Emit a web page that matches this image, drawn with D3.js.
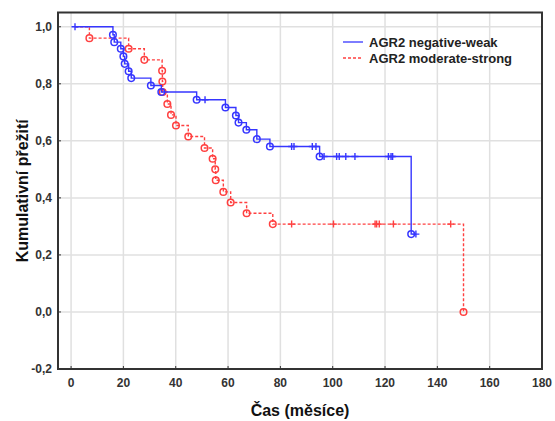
<!DOCTYPE html>
<html lang="cs">
<head>
  <meta charset="UTF-8">
  <title>Kumulativní přežití AGR2</title>
  <script src="https://d3js.org/d3.v7.min.js"></script>
  <style>
    body { margin: 0; background: #fff; }
    svg { font-family: "Liberation Sans", Arial, sans-serif; }
    .tick-label { font-size: 12px; font-weight: bold; fill: #333; }
    .axis-title { font-size: 16px; font-weight: bold; fill: #111; }
    .legend-text { font-size: 13px; font-weight: bold; fill: #222; }
  </style>
</head>
<body>
  <svg width="555" height="421"></svg>

  <script>
    // ticks
    const xTicks = [0, 20, 40, 60, 80, 100, 120, 140, 160, 180];
    const yTicks = [-0.2, 0, 0.2, 0.4, 0.6, 0.8, 1.0];

    // AGR2 negative-weak (solid blue)
    const blueStart = 1.5;
    const blueEventTimes = [16, 16.5, 19, 20, 20.5, 22, 23, 30.5, 34.5, 48, 59, 63, 64, 67, 71, 76, 95, 130];
    const blueSurv = [0.972, 0.946, 0.923, 0.896, 0.870, 0.844, 0.820, 0.794, 0.771, 0.744, 0.717, 0.689, 0.664, 0.639, 0.606, 0.580, 0.545, 0.273];
    const blueCensored = [1.5, 51.2, 84.3, 85.2, 92.2, 93.6, 96.7, 101.5, 102.5, 105, 108.5, 121.3, 122.3, 122.9, 131.8];

    // AGR2 moderate-strong (dashed red)
    const redStart = 1.5;
    const redEventTimes = [7, 22, 28, 34.8, 34.9, 35, 36.8, 38.2, 40.1, 44.8, 51, 54.1, 55.1, 55.3, 58.2, 61, 67.1, 77.1, 150];
    const redSurv = [0.960, 0.923, 0.884, 0.846, 0.808, 0.771, 0.729, 0.691, 0.654, 0.615, 0.575, 0.537, 0.500, 0.462, 0.421, 0.384, 0.346, 0.308, 0.0];
    const redCensored = [84.3, 100.3, 116.2, 116.8, 117.8, 123.2, 145.1];

    const blueColor = "#3636ff";
    const redColor = "#ff4040";

    const svg = d3.select("svg");
    const pLeft = 58, pRight = 542, pTop = 12.5, pBottom = 369;

    const x = d3.scaleLinear().domain([-5, 180]).range([pLeft, pRight]);
    const y = d3.scaleLinear().domain([-0.2, 1.05]).range([pBottom, pTop]);
    const fmt = v => d3.format(".1f")(v).replace(".", ",").replace("−", "-");

    // grid
    svg.append("g").selectAll("line")
      .data(xTicks)
      .enter().append("line")
      .attr("x1", d => x(d)).attr("x2", d => x(d))
      .attr("y1", pTop).attr("y2", pBottom)
      .attr("stroke", "#e0e0e0").attr("stroke-width", 1.5);
    svg.append("g").selectAll("line")
      .data(yTicks)
      .enter().append("line")
      .attr("x1", pLeft).attr("x2", pRight)
      .attr("y1", d => y(d)).attr("y2", d => y(d))
      .attr("stroke", "#e0e0e0").attr("stroke-width", 1.5);

    // inward tick marks
    svg.append("g").selectAll("line")
      .data(xTicks)
      .enter().append("line")
      .attr("x1", d => x(d)).attr("x2", d => x(d))
      .attr("y1", pBottom).attr("y2", pBottom - 3)
      .attr("stroke", "#333");
    svg.append("g").selectAll("line")
      .data(yTicks)
      .enter().append("line")
      .attr("x1", pLeft).attr("x2", pLeft + 3)
      .attr("y1", d => y(d)).attr("y2", d => y(d))
      .attr("stroke", "#333");

    // tick labels
    svg.append("g").selectAll("text")
      .data(xTicks)
      .enter().append("text")
      .attr("class", "tick-label")
      .attr("x", d => x(d)).attr("y", pBottom + 18)
      .attr("text-anchor", "middle")
      .text(d => d);
    svg.append("g").selectAll("text")
      .data(yTicks)
      .enter().append("text")
      .attr("class", "tick-label")
      .attr("x", pLeft - 6).attr("y", d => y(d) + 4)
      .attr("text-anchor", "end")
      .text(fmt);

    // step curves
    function steps(start, times, surv) {
      return [[start, 1.0]].concat(times.map((t, i) => [t, surv[i]]));
    }
    function survAt(times, surv, t) {
      const i = d3.bisectRight(times, t);
      return i === 0 ? 1.0 : surv[i - 1];
    }
    const line = d3.line().curve(d3.curveStepAfter)
      .x(d => x(d[0])).y(d => y(d[1]));

    const series = [
      { start: redStart, times: redEventTimes, surv: redSurv, cens: redCensored, color: redColor, dash: "3,2", end: 150 },
      { start: blueStart, times: blueEventTimes, surv: blueSurv, cens: blueCensored, color: blueColor, dash: null, end: 131.8 }
    ];

    series.forEach(s => {
      const pts = steps(s.start, s.times, s.surv);
      const last = pts[pts.length - 1];
      if (s.end > last[0]) pts.push([s.end, last[1]]);
      const g = svg.append("g");
      g.append("path")
        .datum(pts)
        .attr("d", line)
        .attr("fill", "none")
        .attr("stroke", s.color)
        .attr("stroke-width", 1.4)
        .attr("stroke-dasharray", s.dash);
      g.selectAll("circle")
        .data(s.times.map((t, i) => [t, s.surv[i]]))
        .enter().append("circle")
        .attr("cx", d => x(d[0])).attr("cy", d => y(d[1]))
        .attr("r", 3.3)
        .attr("fill", "none")
        .attr("stroke", s.color)
        .attr("stroke-width", 1.5);
      g.selectAll("path.cens")
        .data(s.cens)
        .enter().append("path")
        .attr("class", "cens")
        .attr("d", t => {
          const cx = x(t), cy = y(survAt(s.times, s.surv, t));
          return `M${cx - 3.5},${cy}H${cx + 3.5}M${cx},${cy - 3.5}V${cy + 3.5}`;
        })
        .attr("stroke", s.color)
        .attr("stroke-width", 1.4);
    });

    // frame
    svg.append("rect")
      .attr("x", pLeft).attr("y", pTop)
      .attr("width", pRight - pLeft).attr("height", pBottom - pTop)
      .attr("fill", "none")
      .attr("stroke", "#333")
      .attr("stroke-width", 2);

    // axis titles
    svg.append("text")
      .attr("class", "axis-title")
      .attr("x", (pLeft + pRight) / 2).attr("y", 416)
      .attr("text-anchor", "middle")
      .text("Čas (měsíce)");
    svg.append("text")
      .attr("class", "axis-title")
      .attr("transform", `translate(28,${(pTop + pBottom) / 2}) rotate(-90)`)
      .attr("text-anchor", "middle")
      .text("Kumulativní přežití");

    // legend
    const legend = [
      { label: "AGR2 negative-weak", color: blueColor, dash: null },
      { label: "AGR2 moderate-strong", color: redColor, dash: "3,2" }
    ];
    const lg = svg.append("g").selectAll("g")
      .data(legend)
      .enter().append("g")
      .attr("transform", (d, i) => `translate(343,${42 + i * 16})`);
    lg.append("line")
      .attr("x1", 0).attr("x2", 20)
      .attr("stroke", d => d.color)
      .attr("stroke-width", 1.3)
      .attr("stroke-dasharray", d => d.dash);
    lg.append("text")
      .attr("class", "legend-text")
      .attr("x", 26).attr("y", 4.5)
      .text(d => d.label);
  </script>
</body>
</html>
